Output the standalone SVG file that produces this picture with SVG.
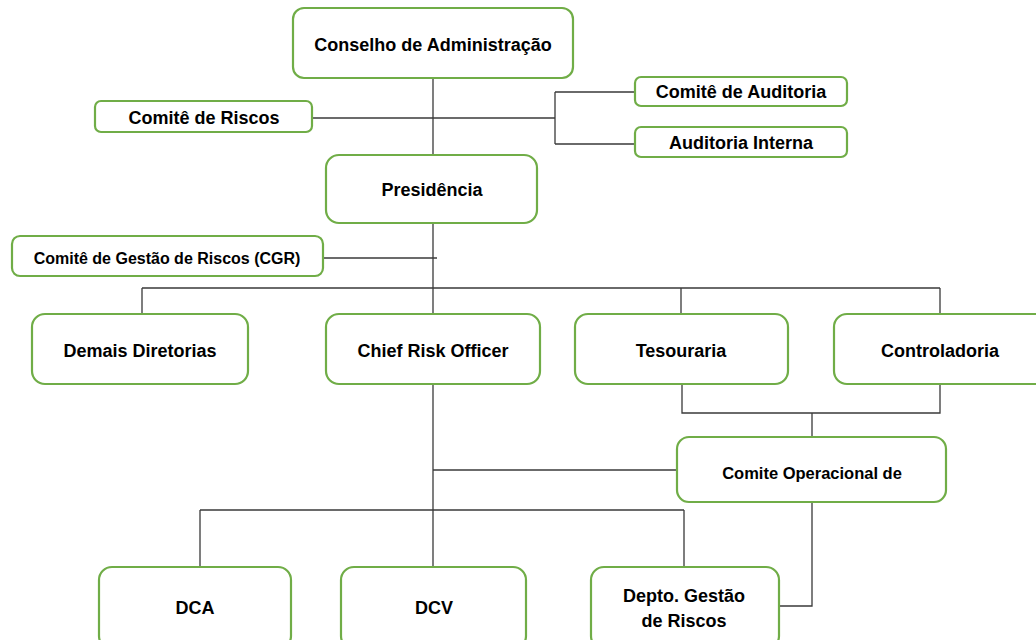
<svg xmlns="http://www.w3.org/2000/svg" width="1036" height="640" viewBox="0 0 1036 640">
<style>
.box{fill:#fff;stroke:#70AD47;stroke-width:2.2}
.t{font-family:"Liberation Sans",Arial,sans-serif;font-weight:bold;font-size:18px;fill:#000;text-anchor:middle}
.s{font-size:16.5px}
.g{font-size:16px}
.c{fill:none;stroke:#3a3a3a;stroke-width:1.3}
</style>
<rect width="1036" height="640" fill="#fff"/>
<g id="connectors">
<path class="c" d="M433 78V155"/>
<path class="c" d="M312 118H555"/>
<path class="c" d="M555 92V144M555 92H635M555 144H635"/>
<path class="c" d="M433 223V314"/>
<path class="c" d="M323 258H437"/>
<path class="c" d="M142 288H940M142 288V314M681 288V314M940 288V314"/>
<path class="c" d="M433 384V567"/>
<path class="c" d="M682 384V413H940V384M812 413V437"/>
<path class="c" d="M433 470H677"/>
<path class="c" d="M200 510H684M200 510V567M684 510V567"/>
<path class="c" d="M812 502V606H779"/>
</g>
<g id="n-conselho"><rect class="box" x="293" y="8" width="280" height="70" rx="11"/><text class="t" x="433" y="51">Conselho de Administração</text></g>
<g id="n-comite-riscos"><rect class="box" x="95" y="101" width="217" height="31" rx="6"/><text class="t" x="204" y="123.5">Comitê de Riscos</text></g>
<g id="n-comite-auditoria"><rect class="box" x="635" y="77" width="212" height="29" rx="6"/><text class="t" x="741" y="97.5">Comitê de Auditoria</text></g>
<g id="n-auditoria-interna"><rect class="box" x="635" y="127" width="212" height="30" rx="6"/><text class="t" x="741" y="148.5">Auditoria Interna</text></g>
<g id="n-presidencia"><rect class="box" x="326" y="155" width="211" height="68" rx="13"/><text class="t" x="432" y="196">Presidência</text></g>
<g id="n-cgr"><rect class="box" x="12" y="236" width="311" height="40" rx="8"/><text class="t g" x="167" y="264">Comitê de Gestão de Riscos (CGR)</text></g>
<g id="n-demais"><rect class="box" x="32" y="314" width="216" height="70" rx="13"/><text class="t" x="140" y="357">Demais Diretorias</text></g>
<g id="n-cro"><rect class="box" x="326" y="314" width="214" height="70" rx="13"/><text class="t" x="433" y="357">Chief Risk Officer</text></g>
<g id="n-tesouraria"><rect class="box" x="575" y="314" width="213" height="70" rx="13"/><text class="t" x="681" y="357">Tesouraria</text></g>
<g id="n-controladoria"><rect class="box" x="834" y="314" width="215" height="70" rx="13"/><text class="t" x="940" y="357">Controladoria</text></g>
<g id="n-comite-operacional"><rect class="box" x="677" y="437" width="269" height="65" rx="12"/><text class="t s" x="812" y="479">Comite Operacional de</text></g>
<g id="n-dca"><rect class="box" x="99" y="567" width="192" height="82" rx="13"/><text class="t" x="195" y="614">DCA</text></g>
<g id="n-dcv"><rect class="box" x="341" y="567" width="185" height="82" rx="13"/><text class="t" x="434" y="614">DCV</text></g>
<g id="n-depto"><rect class="box" x="591" y="567" width="188" height="82" rx="13"/><text class="t" x="684" y="602">Depto. Gestão</text><text class="t" x="684" y="627">de Riscos</text></g>
</svg>
